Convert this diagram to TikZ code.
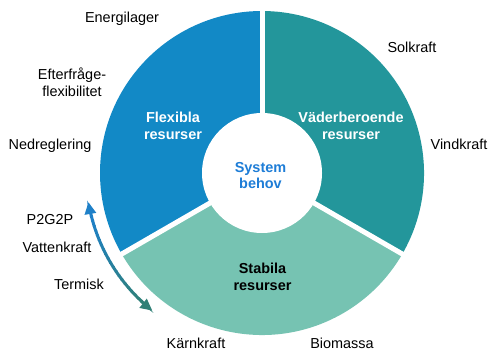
\documentclass[tikz,border=0pt]{standalone}
\usepackage{fontspec}
\setmainfont{Liberation Sans}
\usetikzlibrary{arrows.meta,calc}
\definecolor{flexblue}{RGB}{18,137,198}
\definecolor{weatherteal}{RGB}{35,150,155}
\definecolor{stablegreen}{RGB}{118,195,178}
\definecolor{coreblue}{RGB}{30,125,215}
\definecolor{arrowtop}{RGB}{30,128,200}
\definecolor{arrowbot}{RGB}{48,128,118}
\begin{document}
\begin{tikzpicture}[x=1bp,y=1bp,
  lbl/.style={font=\fontsize{14.5}{17}\selectfont, text=black, align=center, inner sep=0pt},
  seglbl/.style={font=\fontsize{14.5}{17}\selectfont\bfseries, align=center, inner sep=0pt}]
\useasboundingbox (0,0) rectangle (489,351);
\def\R{162}
\def\r{60}
\coordinate (c) at (262,178);
% three resource sectors
\fill[flexblue]    (c) -- ++(90:\R)  arc[start angle=90,  end angle=210, radius=\R] -- cycle;
\fill[stablegreen] (c) -- ++(210:\R) arc[start angle=210, end angle=330, radius=\R] -- cycle;
\fill[weatherteal] (c) -- ++(330:\R) arc[start angle=330, end angle=450, radius=\R] -- cycle;
% white separators
\foreach \a in {90,210,330}
  \draw[white, line width=5bp] (c) -- ++(\a:\R+4);
% central hole
\fill[white] (c) circle[radius=\r];
% segment labels
\node[seglbl, text=white] (flex) at (173,225.5) {Flexibla\\resurser};
\node[seglbl, text=white] (wdep) at (351,225.5) {Väderberoende\\resurser};
\node[seglbl, text=black] (stab) at (262.5,74) {Stabila\\resurser};
\node[seglbl, text=coreblue] (core) at (260.5,175.5) {System\\behov};
% outer labels
\node[lbl] (energi) at (122,332) {Energilager};
\node[lbl] (efter)  at (72,269)  {Efterfråge-\\flexibilitet};
\node[lbl] (ned)    at (50,205)  {Nedreglering};
\node[lbl] (sol)    at (412,304) {Solkraft};
\node[lbl] (vind)   at (459,207) {Vindkraft};
\node[lbl] (p2g)    at (50,131)  {P2G2P};
\node[lbl] (vatten) at (57,104)  {Vattenkraft};
\node[lbl] (term)   at (79,67)   {Termisk};
\node[lbl] (karn)   at (196,8)   {Kärnkraft};
\node[lbl] (bio)    at (342,8)   {Biomassa};
% flexible-to-stable range arrow with a colour fade
\def\ra{176}
\def\aS{194}
\def\aE{227}
\foreach \i in {0,...,19} {
  \pgfmathsetmacro{\pa}{\aS+(\aE-\aS)*\i/20}
  \pgfmathsetmacro{\pb}{\aS+(\aE-\aS)*(\i+1)/20+0.3}
  \pgfmathsetmacro{\pc}{100-5*\i}
  \draw[arrowtop!\pc!arrowbot, line width=3bp]
    ($(c)+(\pa:\ra)$) arc[start angle=\pa, end angle=\pb, radius=\ra];
}
\draw[arrowtop, line width=3bp, -{Triangle[length=12bp,width=11bp]}]
  ($(c)+(\aS+0.5:\ra)$) arc[start angle=\aS+0.5, end angle=189.5, radius=\ra];
\draw[arrowbot, line width=3bp, -{Triangle[length=12bp,width=11bp]}]
  ($(c)+(\aE-0.5:\ra)$) arc[start angle=\aE-0.5, end angle=231.5, radius=\ra];
\end{tikzpicture}
\end{document}
